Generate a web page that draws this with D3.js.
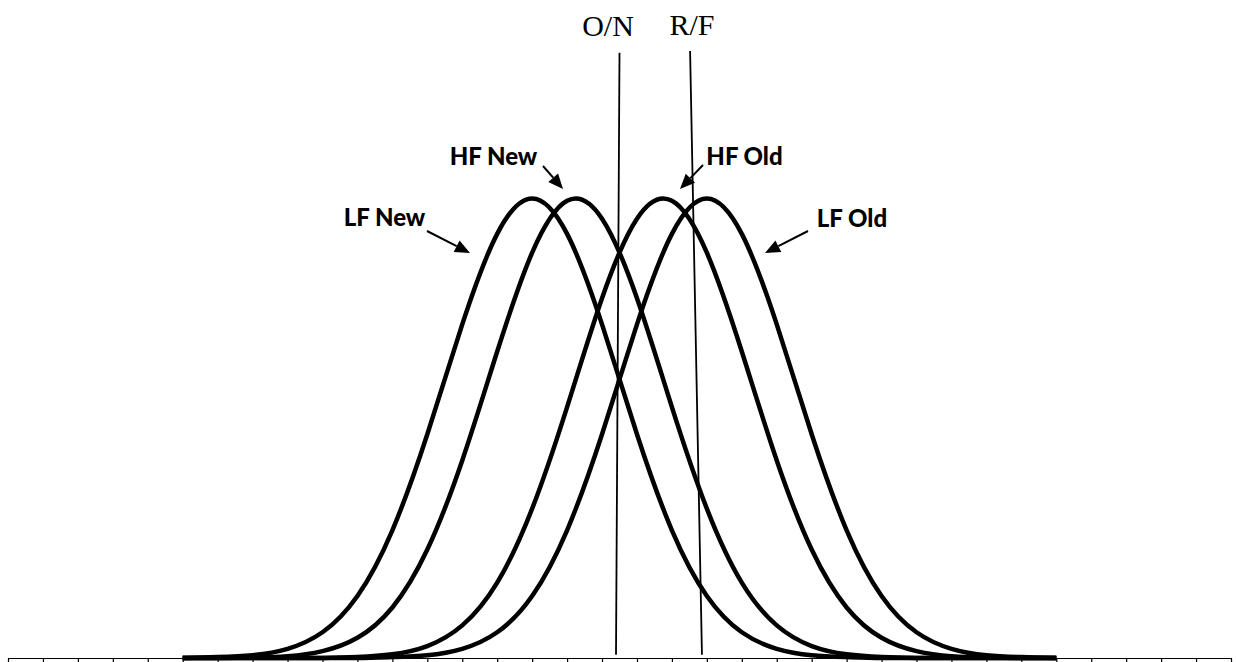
<!DOCTYPE html>
<html>
<head>
<meta charset="utf-8">
<script src="https://cdn.jsdelivr.net/npm/d3@7"></script>
<style>
  body { margin: 0; background: #fff; }
  svg { display: block; }
</style>
</head>
<body>
<div class="chart"></div>
<script>
// x positions of the plotted points (axis units, one tick per unit)
var xValues = [5, 6, 7, 8, 9, 10, 11, 12, 13, 14, 15, 16, 17, 18, 19, 20, 21, 22, 23, 24, 25, 26, 27, 28, 29, 30];

// curve heights (peak = 1)
var lfNew = [0, 0.002, 0.006, 0.020, 0.056, 0.135, 0.278, 0.487, 0.726, 0.923, 1, 0.923, 0.726, 0.487, 0.278, 0.135, 0.056, 0.020, 0.006, 0.002, 0, 0, 0, 0, 0, 0];
var hfNew = [0, 0, 0.001, 0.004, 0.015, 0.044, 0.110, 0.236, 0.430, 0.667, 0.882, 0.995, 0.956, 0.783, 0.546, 0.325, 0.164, 0.071, 0.026, 0.008, 0.002, 0, 0, 0, 0, 0];
var hfOld = [0, 0, 0, 0, 0, 0.002, 0.008, 0.026, 0.071, 0.164, 0.325, 0.546, 0.783, 0.956, 0.995, 0.882, 0.667, 0.430, 0.236, 0.110, 0.044, 0.015, 0.004, 0.001, 0, 0];
var lfOld = [0, 0, 0, 0, 0, 0, 0.002, 0.006, 0.020, 0.056, 0.135, 0.278, 0.487, 0.726, 0.923, 1, 0.923, 0.726, 0.487, 0.278, 0.135, 0.056, 0.020, 0.006, 0.002, 0];

var seriesNames = ["LF New", "HF New", "HF Old", "LF Old"];
var seriesValues = [lfNew, hfNew, hfOld, lfOld];

// criterion lines: [x at top, x at bottom, y at top, y at bottom]
var criterionNames = ["O/N", "R/F"];
var criterionLines = [[17.50, 17.40, 1.317, 0.007], [19.52, 19.86, 1.321, 0.007]];

var tickValues = d3.range(0, 36);

var w = 1236;
var h = 662;

var svg = d3.select(".chart")
            .append("svg")
            .attr("width", w)
            .attr("height", h);

// scales
var xScale = d3.scaleLinear()
    .domain([0, 35])
    .range([8, 1231]);

var yScale = d3.scaleLinear()
    .domain([0, 1])
    .range([658, 198.5]);

// axis (ticks only, no labels)
svg.append("g")
   .attr("transform", "translate(0," + yScale(0) + ")")
   .call(d3.axisBottom(xScale).tickValues(tickValues).tickSize(5).tickSizeOuter(0).tickFormat(""))
   .call(g => g.selectAll("path, line").attr("stroke", "#000").attr("stroke-width", 1.2));

// curves
var line = d3.line()
    .x((d, i) => xScale(xValues[i]))
    .y(d => yScale(d))
    .curve(d3.curveNatural);

svg.selectAll("path.curve")
   .data(seriesValues)
   .enter()
   .append("path")
   .attr("class", "curve")
   .attr("d", line)
   .attr("fill", "none")
   .attr("stroke", "#000")
   .attr("stroke-width", 4.5)
   .attr("stroke-linejoin", "round");

// criterion lines
svg.selectAll("line.crit")
   .data(criterionLines)
   .enter()
   .append("line")
   .attr("class", "crit")
   .attr("x1", d => xScale(d[0]))
   .attr("y1", d => yScale(d[2]))
   .attr("x2", d => xScale(d[1]))
   .attr("y2", d => yScale(d[3]))
   .attr("stroke", "#000")
   .attr("stroke-width", 1.8);

var critLabelPos = [[608, 36], [692, 34.5]];
svg.selectAll("text.crit")
   .data(criterionNames)
   .enter()
   .append("text")
   .attr("class", "crit")
   .attr("x", (d, i) => critLabelPos[i][0])
   .attr("y", (d, i) => critLabelPos[i][1])
   .attr("text-anchor", "middle")
   .style("font-family", "'Liberation Serif', 'Times New Roman', serif")
   .style("font-size", "30px")
   .text(d => d);

// series labels with arrows: text centre, baseline, arrow tail, arrow tip
var labelLayout = [
  {tx: 384.5, ty: 226, x1: 427, y1: 231, x2: 470, y2: 253},
  {tx: 493.5, ty: 165, x1: 543, y1: 166, x2: 563, y2: 189},
  {tx: 744.5, ty: 165, x1: 703, y1: 165, x2: 680, y2: 189},
  {tx: 852, ty: 227, x1: 808, y1: 231, x2: 765, y2: 253}
];

seriesNames.forEach(function(name, i) {
  var p = labelLayout[i];
  svg.append("text")
     .attr("x", p.tx)
     .attr("y", p.ty)
     .attr("text-anchor", "middle")
     .style("font-family", "Lato, 'Liberation Sans', sans-serif")
     .style("font-weight", "900")
     .style("font-size", "24px")
     .text(name);

  var ang = Math.atan2(p.y2 - p.y1, p.x2 - p.x1);
  var len = 15, half = 6.5;
  var bx = p.x2 - len * Math.cos(ang), by = p.y2 - len * Math.sin(ang);
  svg.append("line")
     .attr("x1", p.x1).attr("y1", p.y1)
     .attr("x2", bx).attr("y2", by)
     .attr("stroke", "#000")
     .attr("stroke-width", 2);
  svg.append("path")
     .attr("d", "M" + p.x2 + "," + p.y2 +
                "L" + (bx + half * Math.sin(ang)) + "," + (by - half * Math.cos(ang)) +
                "L" + (bx - half * Math.sin(ang)) + "," + (by + half * Math.cos(ang)) + "Z")
     .attr("fill", "#000");
});
</script>
</body>
</html>
